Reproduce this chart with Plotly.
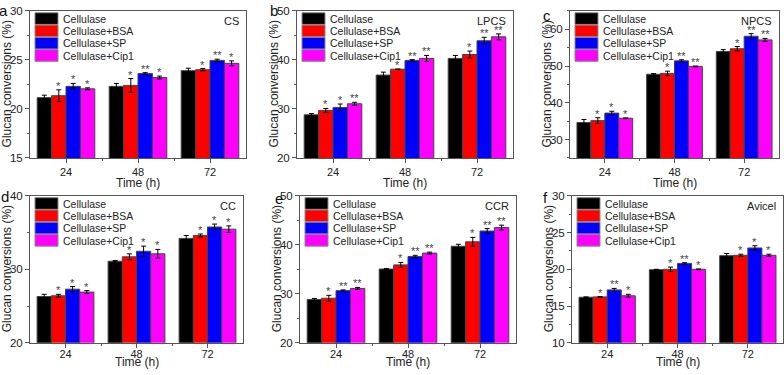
import plotly.graph_objects as go

# ---------------- data ----------------
TIMES = ["24", "48", "72"]
SERIES = ["Cellulase", "Cellulase+BSA", "Cellulase+SP", "Cellulase+Cip1"]
COLORS = ["#000000", "#ff0000", "#0000ff", "#ff00ff"]

# rows = series (Cellulase, +BSA, +SP, +Cip1), columns = 24, 48, 72 h
CS_VAL = [[21.15, 22.3, 23.9], [21.35, 22.4, 24.0], [22.3, 23.6, 24.95], [22.05, 23.2, 24.65]]
CS_ERR = [[0.25, 0.3, 0.25], [0.6, 0.7, 0.12], [0.3, 0.1, 0.12], [0.1, 0.15, 0.25]]
CS_SIG = [["", "", ""], ["*", "*", "*"], ["*", "**", "**"], ["*", "*", "*"]]

LPCS_VAL = [[28.8, 36.9, 40.3], [29.7, 38.1, 41.1], [30.3, 39.9, 43.9], [31.05, 40.3, 44.7]]
LPCS_ERR = [[0.25, 0.6, 0.6], [0.4, 0.0, 0.7], [0.7, 0.15, 0.7], [0.3, 0.6, 0.6]]
LPCS_SIG = [["", "", ""], ["*", "*", "*"], ["*", "**", "**"], ["**", "**", "**"]]

NPCS_VAL = [[34.65, 47.75, 53.95], [35.15, 48.0, 54.7], [37.2, 51.4, 58.1], [35.8, 49.9, 57.1]]
NPCS_ERR = [[0.8, 0.2, 0.5], [0.8, 0.6, 0.6], [0.5, 0.3, 0.7], [0.1, 0.1, 0.4]]
NPCS_SIG = [["", "", ""], ["*", "*", "*"], ["*", "**", "**"], ["*", "**", "**"]]

CC_VAL = [[26.3, 31.1, 34.2], [26.4, 31.7, 34.6], [27.3, 32.45, 35.75], [26.9, 32.1, 35.45]]
CC_ERR = [[0.3, 0.1, 0.4], [0.2, 0.4, 0.2], [0.35, 0.7, 0.4], [0.2, 0.6, 0.45]]
CC_SIG = [["", "", ""], ["*", "*", "*"], ["*", "*", "*"], ["*", "*", "*"]]

CCR_VAL = [[28.85, 35.05, 39.7], [29.1, 35.9, 40.6], [30.65, 37.6, 42.8], [31.1, 38.3, 43.5]]
CCR_ERR = [[0.2, 0.1, 0.4], [0.6, 0.5, 0.9], [0.15, 0.25, 0.5], [0.2, 0.2, 0.5]]
CCR_SIG = [["", "", ""], ["*", "*", "*"], ["**", "**", "**"], ["**", "**", "**"]]

AVICEL_VAL = [[16.2, 19.95, 21.85], [16.25, 20.0, 21.9], [17.2, 20.8, 22.9], [16.4, 20.0, 21.9]]
AVICEL_ERR = [[0.05, 0.05, 0.3], [0.05, 0.3, 0.15], [0.2, 0.1, 0.3], [0.2, 0.05, 0.15]]
AVICEL_SIG = [["", "", ""], ["*", "*", "*"], ["**", "**", "*"], ["*", "*", "*"]]

PANEL_NAMES = ["CS", "LPCS", "NPCS", "CC", "CCR", "Avicel"]
PANEL_LETTERS = ["a", "b", "c", "d", "e", "f"]
Y_RANGES = [[15, 30], [20, 50], [25, 65], [20, 40], [20, 50], [10, 30]]
Y_DTICKS = [5, 10, 10, 10, 10, 5]

X_TITLE = "Time (h)"
Y_TITLE = "Glucan conversions (%)"

VALUES = [CS_VAL, LPCS_VAL, NPCS_VAL, CC_VAL, CCR_VAL, AVICEL_VAL]
ERRORS = [CS_ERR, LPCS_ERR, NPCS_ERR, CC_ERR, CCR_ERR, AVICEL_ERR]
SIGS = [CS_SIG, LPCS_SIG, NPCS_SIG, CC_SIG, CCR_SIG, AVICEL_SIG]

# ---------------- layout geometry (pixels) ----------------
W, H = 784, 375
BOXES = [(30, 246, 5, 157), (297, 513, 5, 157), (570, 779, 5, 157),
         (30, 243, 196, 348), (300, 516, 196, 348), (572, 783, 196, 348)]
LETTER_POS = [(4, 5), (274, 5), (547, 10), (5, 197), (279, 199), (545, 198)]
XTITLE_DY = [26, 26, 26, 20, 20, 20]
XLABEL_STANDOFF = [0, 0, 0, -3, -3, -3]

FONT = "Liberation Sans, Arial, sans-serif"
LINE = "#555555"
BARGAP = 0.2


def px(x):
    return x / W


def py(y):
    return 1 - y / H


fig = go.Figure()
layout = dict(
    width=W, height=H, margin=dict(l=0, r=0, t=0, b=0),
    paper_bgcolor="white", plot_bgcolor="white",
    barmode="group", bargap=BARGAP, bargroupgap=0,
    showlegend=False, font=dict(family=FONT, size=11, color="#222"),
)
annotations = []
shapes = []
nser = len(SERIES)
bw = (1 - BARGAP) / nser

for p in range(6):
    x0, x1, y0, y1 = BOXES[p]
    sfx = "" if p == 0 else str(p + 1)
    xa, ya = "x" + sfx, "y" + sfx
    xs = list(range(len(TIMES)))
    for k in range(nser):
        fig.add_trace(go.Bar(
            x=xs, y=VALUES[p][k], name=SERIES[k], xaxis=xa, yaxis=ya,
            marker=dict(color=COLORS[k], line=dict(color="#444444", width=1)),
            error_y=dict(type="data", array=ERRORS[p][k], color="black",
                         thickness=1, width=2.5),
        ))
    # significance markers
    for k in range(nser):
        for i in range(len(TIMES)):
            if SIGS[p][k][i]:
                annotations.append(dict(
                    text=SIGS[p][k][i], xref=xa, yref=ya,
                    x=i + (k - (nser - 1) / 2) * bw,
                    y=VALUES[p][k][i] + ERRORS[p][k][i],
                    xanchor="center", yanchor="bottom", yshift=-4, showarrow=False,
                    font=dict(size=11, color="#444444", family=FONT)))

    lo, hi = Y_RANGES[p]
    dt = Y_DTICKS[p]
    layout["xaxis" + sfx] = dict(
        domain=[px(x0), px(x1)], anchor=ya, range=[-0.5, 2.5],
        tickmode="array", tickvals=xs, ticktext=TIMES,
        showline=True, linecolor=LINE, linewidth=1, mirror=True,
        ticks="outside", ticklen=4, tickcolor=LINE, showgrid=False, zeroline=False,
        ticklabelstandoff=XLABEL_STANDOFF[p],
        tickfont=dict(size=11, color="#222", family=FONT),
        minor=dict(tickmode="array", tickvals=[0.5, 1.5], ticks="outside",
                   ticklen=2.5, tickcolor=LINE),
    )
    layout["yaxis" + sfx] = dict(
        domain=[py(y1), py(y0)], anchor=xa, range=[lo, hi],
        tick0=0, dtick=dt,
        showline=True, linecolor=LINE, linewidth=1, mirror=True,
        ticks="outside", ticklen=4, tickcolor=LINE, showgrid=False, zeroline=False,
        tickfont=dict(size=11.5, color="#222", family=FONT),
        minor=dict(tick0=0, dtick=dt / 2, ticks="outside", ticklen=2.5, tickcolor=LINE),
    )

    # axis titles
    annotations.append(dict(
        text=X_TITLE, x=px((x0 + x1) / 2), y=py(y1 + XTITLE_DY[p]), xref="paper", yref="paper",
        xanchor="center", yanchor="middle", showarrow=False,
        font=dict(size=12, color="#222", family=FONT)))
    annotations.append(dict(
        text=Y_TITLE, x=px(x0 - 23), y=py((y0 + y1) / 2), xref="paper", yref="paper",
        xanchor="center", yanchor="middle", showarrow=False, textangle=-90,
        font=dict(size=12, color="#222", family=FONT)))
    # panel letter
    lx, ly = LETTER_POS[p]
    annotations.append(dict(
        text=PANEL_LETTERS[p], x=px(lx), y=py(ly), xref="paper", yref="paper",
        xanchor="center", yanchor="middle", showarrow=False,
        font=dict(size=15, color="#111", family=FONT)))
    # sample name
    annotations.append(dict(
        text=PANEL_NAMES[p], x=px(x1 - 5), y=py(y0 + 10.5), xref="paper", yref="paper",
        xanchor="right", yanchor="middle", showarrow=False,
        font=dict(size=11, color="#222", family=FONT)))
    # legend boxes
    for k in range(nser):
        top = y0 + 2 + 12.7 * k
        shapes.append(dict(
            type="rect", xref="paper", yref="paper",
            x0=px(x0 + 5), x1=px(x0 + 28), y0=py(top + 12), y1=py(top),
            fillcolor=COLORS[k], line=dict(color="#888888", width=1)))
        annotations.append(dict(
            text=SERIES[k], x=px(x0 + 31), y=py(top + 6.3), xref="paper", yref="paper",
            xanchor="left", yanchor="middle", showarrow=False,
            font=dict(size=10.5, color="#222", family=FONT)))

layout["annotations"] = annotations
layout["shapes"] = shapes
fig.update_layout(**layout)
fig.write_html(
    "out.html",
    config={"displayModeBar": False},
    post_script="document.body.style.margin='0';document.body.style.overflow='hidden';",
)
